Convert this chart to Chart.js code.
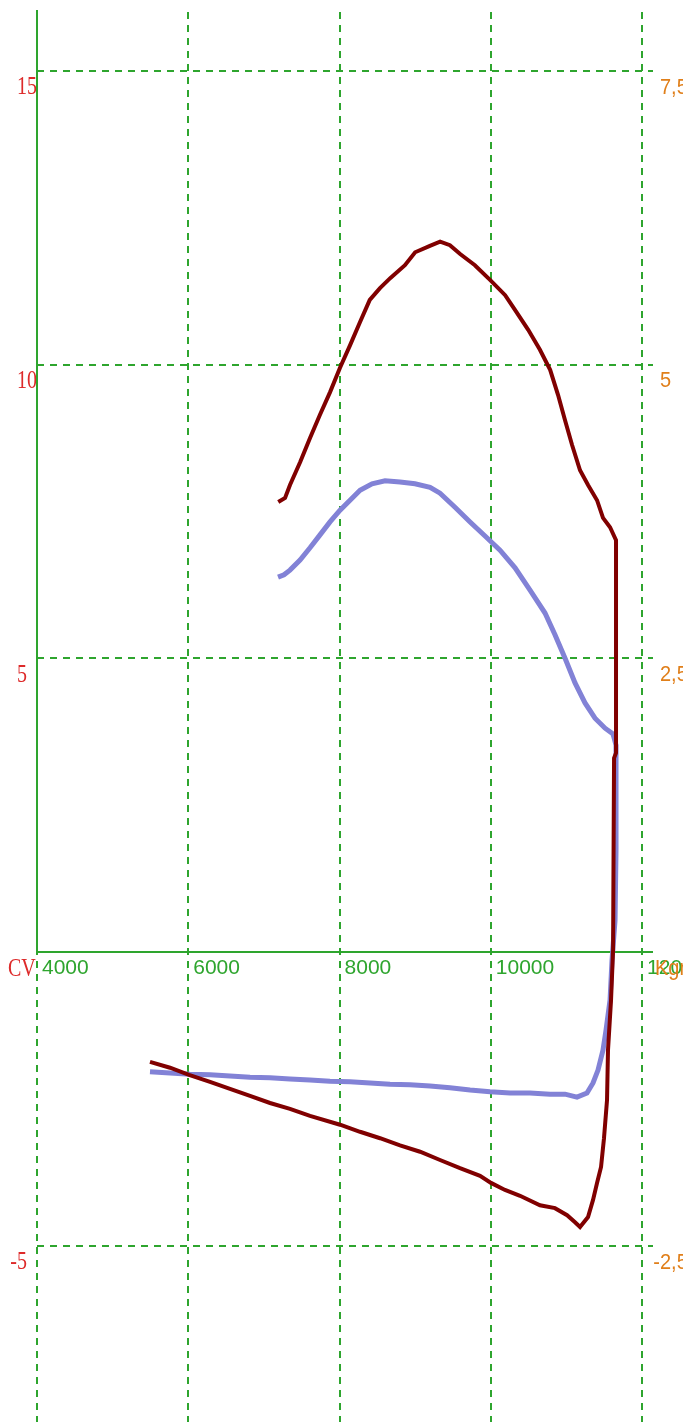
<!DOCTYPE html>
<html>
<head>
<meta charset="utf-8">
<script src="https://cdn.jsdelivr.net/npm/chart.js@4/dist/chart.umd.min.js"></script>
<style>
html,body{margin:0;padding:0;background:#fff;}
canvas{display:block;}
</style>
</head>
<body>
<canvas id="c" width="683" height="1428"></canvas>
<script>
// ---- data ----
const redX = [7190,7280,7345,7480,7610,7740,7875,8005,8140,8270,8400,8535,8670,8865,9000,9195,9330,9460,9595,9790,9990,10190,10320,10495,10650,10785,10890,10980,11075,11180,11286,11405,11484,11577,11656,11656,11630,11617,11590,11550,11537,11497,11458,11405,11352,11286,11180,11114,11009,10849,10651,10387,10188,10003,9858,9593,9329,9065,8800,8536,8271,8007,7610,7345,7081,6817,6552,6288,6010,5759,5494];
const redY = [7.66,7.73,7.95,8.34,8.75,9.14,9.53,9.94,10.33,10.72,11.10,11.30,11.47,11.69,11.91,12.02,12.09,12.03,11.88,11.69,11.44,11.18,10.93,10.59,10.25,9.91,9.48,9.06,8.63,8.20,7.95,7.69,7.39,7.23,7.01,3.39,3.30,0.03,-0.82,-1.67,-2.52,-3.17,-3.66,-3.93,-4.22,-4.51,-4.68,-4.60,-4.48,-4.36,-4.31,-4.15,-4.05,-3.93,-3.81,-3.68,-3.54,-3.40,-3.29,-3.17,-3.06,-2.94,-2.79,-2.67,-2.57,-2.45,-2.33,-2.21,-2.09,-1.97,-1.87];
const blueX = [7187,7266,7345,7478,7610,7742,7874,8007,8139,8271,8430,8602,8800,8998,9197,9329,9527,9726,9924,10122,10321,10519,10717,10849,10982,11114,11246,11378,11511,11617,11656,11656,11643,11603,11577,11524,11484,11418,11352,11272,11140,10982,10784,10519,10255,9990,9726,9461,9197,8932,8668,8403,8139,7874,7610,7345,7081,6817,6552,6288,6023,5759,5494];
const blueY = [6.38,6.42,6.50,6.67,6.88,7.10,7.32,7.52,7.69,7.86,7.97,8.02,8.00,7.97,7.91,7.81,7.57,7.32,7.08,6.84,6.54,6.16,5.77,5.40,5.00,4.58,4.24,3.98,3.81,3.71,3.52,1.74,0.54,-0.14,-0.82,-1.33,-1.67,-2.01,-2.23,-2.40,-2.47,-2.42,-2.42,-2.40,-2.40,-2.38,-2.35,-2.31,-2.28,-2.26,-2.25,-2.23,-2.21,-2.20,-2.18,-2.16,-2.14,-2.13,-2.11,-2.09,-2.08,-2.06,-2.04];

const xTickValues = [4000,6000,8000,10000,12000];
const xTickLabels = ['4000','6000','8000','10000','12000'];
const yTickValues = [-5,0,5,10,15];
const yLeftLabels = ['-5','CV','5','10','15'];
const yRightLabels = ['-2,5','Kgm','2,5','5','7,5'];

const GREEN = '#2ea52e';
const RED_TXT = '#dd2a2a';
const ORANGE = '#e07f1a';

function toPts(xs, ys){ return xs.map((v,i)=>({x:v, y:ys[i]})); }

function stretchedText(ctx, t, px, py, sy){
  ctx.save();
  ctx.translate(px, py);
  ctx.scale(1, sy);
  ctx.fillText(t, 0, 0);
  ctx.restore();
}

const axisPlugin = {
  id: 'axisPlugin',
  beforeDatasetsDraw(chart){
    const {ctx, scales:{x, y}, chartArea} = chart;
    ctx.save();
    ctx.textBaseline = 'top';
    ctx.textAlign = 'left';
    // left labels
    ctx.font = '20px "Liberation Serif"';
    ctx.fillStyle = RED_TXT;
    yTickValues.forEach((v,i)=>{
      const t = yLeftLabels[i];
      const py = y.getPixelForValue(v);
      let px = 17;
      if (t.startsWith('-')) px -= ctx.measureText('-').width;
      if (v === 0) px = 8;
      stretchedText(ctx, t, px, py + 5, 1.22);
    });
    // solid axis lines
    const x0 = x.getPixelForValue(xTickValues[0]);
    const y0 = y.getPixelForValue(0);
    ctx.strokeStyle = GREEN;
    ctx.lineWidth = 2;
    ctx.setLineDash([]);
    ctx.beginPath();
    ctx.moveTo(x0, chartArea.top - 2);
    ctx.lineTo(x0, y0);
    ctx.moveTo(x0, y0);
    ctx.lineTo(chartArea.right, y0);
    ctx.stroke();
    // x labels
    ctx.font = '21px "Liberation Sans"';
    ctx.fillStyle = GREEN;
    xTickValues.forEach((v,i)=>{
      ctx.fillText(xTickLabels[i], x.getPixelForValue(v) + 5, y0 + 6);
    });
    // right labels
    ctx.font = '20px "Liberation Sans"';
    ctx.fillStyle = ORANGE;
    yTickValues.forEach((v,i)=>{
      const t = yRightLabels[i];
      const py = y.getPixelForValue(v);
      let px = 660;
      if (t.startsWith('-')) px -= ctx.measureText('-').width;
      if (v === 0) px = 655;
      stretchedText(ctx, t, px, py + 6, 1.08);
    });
    ctx.restore();
  }
};

new Chart(document.getElementById('c'), {
  type: 'scatter',
  data: {
    datasets: [
      { label: 'CV', data: toPts(redX, redY), showLine: true, borderColor: '#800000', borderWidth: 4, pointRadius: 0, tension: 0, fill: false },
      { label: 'Kgm', data: toPts(blueX, blueY), showLine: true, borderColor: '#8282d6', borderWidth: 5, pointRadius: 0, tension: 0, fill: false }
    ]
  },
  options: {
    responsive: false,
    devicePixelRatio: 1,
    animation: false,
    events: [],
    layout: { padding: { left: 37, right: 30, top: 12, bottom: 6 } },
    plugins: { legend: { display: false }, tooltip: { enabled: false } },
    scales: {
      x: {
        type: 'linear', min: 4000, max: 12145,
        afterBuildTicks: (s) => { s.ticks = xTickValues.map(v => ({value: v})); },
        ticks: { display: false },
        grid: { color: GREEN, lineWidth: 2, drawTicks: false },
        border: { display: false, dash: [7, 6] }
      },
      y: {
        type: 'linear', min: -8, max: 16,
        afterBuildTicks: (s) => { s.ticks = yTickValues.map(v => ({value: v})); },
        ticks: { display: false },
        grid: { color: GREEN, lineWidth: 2, drawTicks: false },
        border: { display: false, dash: [7, 6] }
      }
    }
  },
  plugins: [axisPlugin]
});
</script>
</body>
</html>
